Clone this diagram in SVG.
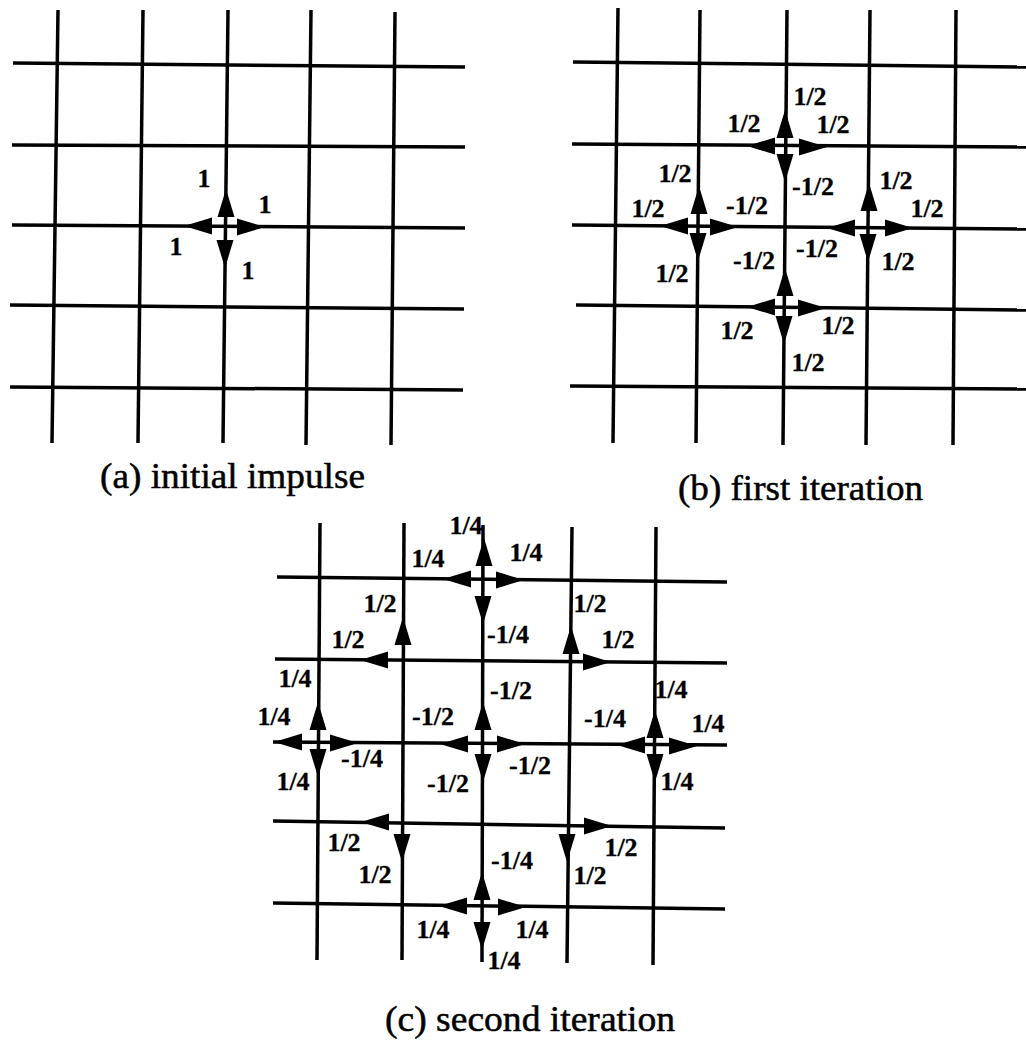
<svg xmlns="http://www.w3.org/2000/svg" width="1026" height="1045" viewBox="0 0 1026 1045">
<style>
.g{stroke:#000;stroke-width:3.5;fill:none;stroke-linecap:butt}
.ah{fill:#000}
.lb{font-family:'Liberation Serif','Times New Roman',Times,serif;font-weight:bold;font-size:26px;text-anchor:middle;fill:#000;stroke:#000;stroke-width:0.3}
.cap{font-family:'Liberation Serif','Times New Roman',Times,serif;font-size:36px;fill:#000;stroke:#000;stroke-width:0.5}
</style>
<defs>
<path id="ah" d="M0,0 L-28,-8.5 L-28,8.5 Z"/>
</defs>
<rect width="1026" height="1045" fill="#fff"/>

<!-- Panel (a) -->
<g id="panel-a">
<g id="grid-a" class="g">
<line x1="58" y1="10" x2="52" y2="443"/>
<line x1="143" y1="10" x2="138" y2="443"/>
<line x1="228" y1="10" x2="223" y2="443"/>
<line x1="311" y1="10" x2="306" y2="445"/>
<line x1="395" y1="12" x2="391" y2="445"/>
<line x1="13" y1="63" x2="465" y2="67"/>
<line x1="12" y1="145" x2="465" y2="147"/>
<line x1="12" y1="225" x2="465" y2="228"/>
<line x1="10" y1="305" x2="464" y2="309"/>
<line x1="10" y1="387" x2="463" y2="390"/>
</g>
<g id="arrows-a" class="ah">
<use href="#ah" transform="translate(226,189) rotate(-90)"/>
<use href="#ah" transform="translate(184,226) rotate(180)"/>
<use href="#ah" transform="translate(265,227)"/>
<use href="#ah" transform="translate(225,268) rotate(90)"/>
</g>
<g id="labels-a" class="lb">
<text x="204" y="187">1</text>
<text x="265" y="213">1</text>
<text x="176" y="255">1</text>
<text x="248" y="279">1</text>
</g>
<text id="cap-a" class="cap" x="100" y="488" textLength="265" lengthAdjust="spacingAndGlyphs">(a) initial impulse</text>
</g>

<!-- Panel (b) -->
<g id="panel-b">
<g id="grid-b" class="g">
<line x1="618" y1="8" x2="613" y2="443"/>
<line x1="700" y1="10" x2="696" y2="443"/>
<line x1="787" y1="10" x2="783" y2="445"/>
<line x1="870" y1="10" x2="866" y2="445"/>
<line x1="956" y1="10" x2="953" y2="445"/>
<line x1="573" y1="62" x2="1026" y2="67"/>
<line x1="572" y1="144" x2="1026" y2="147"/>
<line x1="572" y1="225" x2="1026" y2="229"/>
<line x1="576" y1="305" x2="1026" y2="310"/>
<line x1="570" y1="386" x2="1026" y2="389"/>
</g>
<g id="arrows-b" class="ah">
<use href="#ah" transform="translate(785,110) rotate(-90)"/>
<use href="#ah" transform="translate(747,146) rotate(180)"/>
<use href="#ah" transform="translate(827,147)"/>
<use href="#ah" transform="translate(785,182) rotate(90)"/>

<use href="#ah" transform="translate(660,226) rotate(180)"/>
<use href="#ah" transform="translate(738,227)"/>
<use href="#ah" transform="translate(699,186) rotate(-90)"/>
<use href="#ah" transform="translate(698,261) rotate(90)"/>

<use href="#ah" transform="translate(827,228) rotate(180)"/>
<use href="#ah" transform="translate(913,228)"/>
<use href="#ah" transform="translate(869,183) rotate(-90)"/>
<use href="#ah" transform="translate(868,262) rotate(90)"/>

<use href="#ah" transform="translate(785,268) rotate(-90)"/>
<use href="#ah" transform="translate(747,307) rotate(180)"/>
<use href="#ah" transform="translate(826,308)"/>
<use href="#ah" transform="translate(784,344) rotate(90)"/>
</g>
<g id="labels-b" class="lb">
<text x="810" y="105">1/2</text>
<text x="744" y="132">1/2</text>
<text x="833" y="133">1/2</text>
<text x="675" y="182">1/2</text>
<text x="813" y="195">-1/2</text>
<text x="896" y="189">1/2</text>
<text x="648" y="217">1/2</text>
<text x="747" y="214">-1/2</text>
<text x="927" y="217">1/2</text>
<text x="817" y="257">-1/2</text>
<text x="754" y="269">-1/2</text>
<text x="672" y="282">1/2</text>
<text x="898" y="270">1/2</text>
<text x="737" y="339">1/2</text>
<text x="838" y="334">1/2</text>
<text x="808" y="371">1/2</text>
</g>
<text id="cap-b" class="cap" x="678" y="500" textLength="245" lengthAdjust="spacingAndGlyphs">(b) first iteration</text>
</g>

<!-- Panel (c) -->
<g id="panel-c">
<g id="grid-c" class="g">
<line x1="320" y1="523" x2="317" y2="960"/>
<line x1="404" y1="523" x2="402" y2="960"/>
<line x1="483" y1="525" x2="482" y2="962"/>
<line x1="572" y1="527" x2="567" y2="963"/>
<line x1="656" y1="527" x2="653" y2="965"/>
<line x1="277" y1="577" x2="727" y2="582"/>
<line x1="275" y1="659" x2="727" y2="663"/>
<line x1="273" y1="742" x2="727" y2="745"/>
<line x1="273" y1="821" x2="725" y2="828"/>
<line x1="273" y1="903" x2="725" y2="909"/>
</g>
<g id="arrows-c" class="ah">
<use href="#ah" transform="translate(484,538) rotate(-90)"/>
<use href="#ah" transform="translate(443,579) rotate(180)"/>
<use href="#ah" transform="translate(524,580)"/>
<use href="#ah" transform="translate(483,624) rotate(90)"/>

<use href="#ah" transform="translate(403,617) rotate(-90)"/>
<use href="#ah" transform="translate(360,660) rotate(180)"/>

<use href="#ah" transform="translate(571,626) rotate(-90)"/>
<use href="#ah" transform="translate(611,662)"/>

<use href="#ah" transform="translate(318,702) rotate(-90)"/>
<use href="#ah" transform="translate(274,742) rotate(180)"/>
<use href="#ah" transform="translate(358,743)"/>
<use href="#ah" transform="translate(318,777) rotate(90)"/>

<use href="#ah" transform="translate(483,702) rotate(-90)"/>
<use href="#ah" transform="translate(440,744) rotate(180)"/>
<use href="#ah" transform="translate(525,744)"/>
<use href="#ah" transform="translate(483,782) rotate(90)"/>

<use href="#ah" transform="translate(655,710) rotate(-90)"/>
<use href="#ah" transform="translate(617,745) rotate(180)"/>
<use href="#ah" transform="translate(697,746)"/>
<use href="#ah" transform="translate(655,782) rotate(90)"/>

<use href="#ah" transform="translate(361,822) rotate(180)"/>
<use href="#ah" transform="translate(402,862) rotate(90)"/>

<use href="#ah" transform="translate(612,826)"/>
<use href="#ah" transform="translate(567,862) rotate(90)"/>

<use href="#ah" transform="translate(482,872) rotate(-90)"/>
<use href="#ah" transform="translate(439,906) rotate(180)"/>
<use href="#ah" transform="translate(526,907)"/>
<use href="#ah" transform="translate(482,950) rotate(90)"/>
</g>
<g id="labels-c" class="lb">
<text x="466" y="534">1/4</text>
<text x="428" y="567">1/4</text>
<text x="526" y="561">1/4</text>
<text x="508" y="643">-1/4</text>
<text x="380" y="612">1/2</text>
<text x="348" y="648">1/2</text>
<text x="590" y="612">1/2</text>
<text x="618" y="648">1/2</text>
<text x="295" y="687">1/4</text>
<text x="274" y="725">1/4</text>
<text x="362" y="767">-1/4</text>
<text x="293" y="790">1/4</text>
<text x="511" y="699">-1/2</text>
<text x="433" y="725">-1/2</text>
<text x="448" y="792">-1/2</text>
<text x="530" y="774">-1/2</text>
<text x="671" y="698">1/4</text>
<text x="708" y="732">1/4</text>
<text x="605" y="727">-1/4</text>
<text x="677" y="790">1/4</text>
<text x="344" y="851">1/2</text>
<text x="375" y="883">1/2</text>
<text x="621" y="856">1/2</text>
<text x="590" y="884">1/2</text>
<text x="512" y="869">-1/4</text>
<text x="433" y="938">1/4</text>
<text x="532" y="938">1/4</text>
<text x="504" y="969">1/4</text>
</g>
<text id="cap-c" class="cap" x="385" y="1031" textLength="290" lengthAdjust="spacingAndGlyphs">(c) second iteration</text>
</g>
</svg>
